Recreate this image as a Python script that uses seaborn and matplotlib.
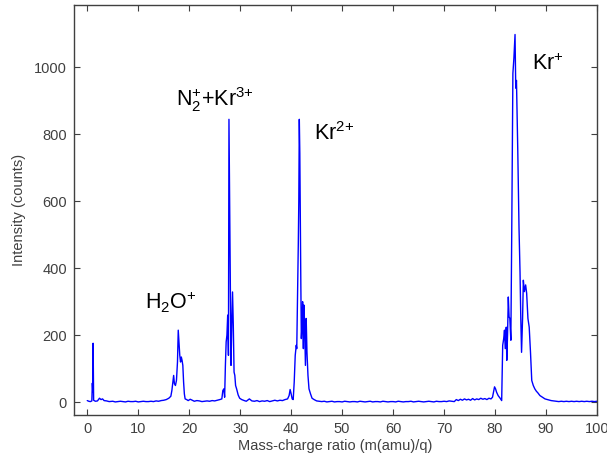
import matplotlib
matplotlib.use("Agg")
import matplotlib.pyplot as plt
import seaborn as sns
import pandas as pd

# Time-of-flight mass spectrum of krypton with residual-gas peaks,
# stored region by region (mass-to-charge, counts).
low_mass = [0.0, 0.3, 0.6, 0.9, 1.0, 1.1, 1.15, 1.25,
            1.6, 2.0, 2.4, 2.7, 3.0, 3.3, 3.8, 4.3,
            5.0, 5.5, 6.0, 6.5, 7.0, 7.5, 8.0, 8.5,
            9.0, 9.5, 10.0, 10.5, 11.0, 11.5, 12.0, 12.5,
            13.0, 13.5, 14.0, 14.5, 15.0, 15.5, 16.0]
low_counts = [5, 3, 2, 4, 57, 30, 176, 6,
              3, 4, 12, 8, 10, 5, 4, 2,
              3, 1, 2, 3, 2, 1, 3, 2,
              2, 3, 1, 2, 3, 2, 2, 3,
              2, 4, 3, 5, 6, 8, 12]

water_mass = [16.4, 16.6, 16.8, 16.95, 17.1, 17.3, 17.5, 17.7,
              17.85, 18.0, 18.15, 18.3, 18.45, 18.6, 18.75, 18.9,
              19.05, 19.2, 19.5, 19.8, 20.2, 20.6, 21.0, 21.5,
              22.0, 22.5, 23.0, 23.5, 24.0, 24.5, 25.0, 25.5,
              26.0, 26.4]
water_counts = [18, 35, 60, 80, 55, 50, 65, 120,
                215, 180, 140, 120, 135, 125, 110, 60,
                25, 10, 8, 5, 9, 6, 3, 5,
                4, 2, 3, 4, 3, 5, 4, 6,
                8, 10]

n2_mass = [26.6, 26.8, 26.95, 27.1, 27.25, 27.4, 27.55, 27.7,
           27.8, 27.9, 28.05, 28.2, 28.35, 28.5, 28.65, 28.8,
           28.95, 29.1, 29.3, 29.6, 29.9, 30.3, 30.8, 31.2,
           31.8, 32.3, 32.8, 33.3, 33.8, 34.3, 34.8, 35.3,
           35.8, 36.3, 36.8, 37.3, 37.8, 38.3, 38.8, 39.3]
n2_counts = [35, 40, 15, 110, 180, 200, 260, 140,
             844, 669, 420, 110, 230, 329, 230, 90,
             80, 50, 40, 22, 12, 8, 5, 3,
             10, 4, 3, 5, 2, 4, 3, 5,
             2, 4, 6, 4, 6, 5, 8, 10]

kr2_mass = [39.6, 39.8, 40.0, 40.2, 40.4, 40.6, 40.8, 41.0,
            41.1, 41.25, 41.4, 41.5, 41.6, 41.7, 41.8, 41.9,
            42.0, 42.1, 42.25, 42.4, 42.5, 42.65, 42.8, 42.95,
            43.1, 43.3, 43.5, 43.8, 44.1, 44.5, 45.0, 45.5]
kr2_counts = [20, 38, 25, 10, 8, 60, 140, 170,
              160, 310, 470, 600, 844, 743, 534, 350,
              190, 220, 300, 160, 290, 230, 110, 250,
              150, 80, 40, 25, 12, 8, 4, 3]

mid_mass = [46.0, 46.5, 47.0, 47.5, 48.0, 48.5, 49.0, 49.5,
            50.0, 50.5, 51.0, 51.5, 52.0, 52.5, 53.0, 53.5,
            54.0, 54.5, 55.0, 55.5, 56.0, 56.5, 57.0, 57.5,
            58.0, 58.5, 59.0, 59.5, 60.0, 60.5, 61.0, 61.5,
            62.0, 62.5, 63.0, 63.5, 64.0, 64.5, 65.0, 65.5,
            66.0, 66.5, 67.0, 67.5, 68.0, 68.5, 69.0, 69.5,
            70.0, 70.5, 71.0, 71.5]
mid_counts = [2, 3, 1, 2, 3, 1, 2, 2,
              1, 3, 2, 1, 2, 2, 1, 3,
              2, 1, 2, 3, 1, 2, 2, 1,
              3, 2, 1, 2, 2, 1, 3, 2,
              1, 2, 2, 3, 1, 2, 3, 2,
              1, 2, 3, 2, 1, 3, 2, 2,
              3, 2, 4, 3]

pre_mass = [72.0, 72.4, 72.8, 73.2, 73.6, 74.0, 74.4, 74.8,
            75.2, 75.6, 76.0, 76.4, 76.8, 77.2, 77.6, 78.0,
            78.4, 78.8, 79.2, 79.5, 79.7, 79.9, 80.1, 80.3,
            80.6, 81.0, 81.3]
pre_counts = [2, 8, 5, 9, 6, 10, 7, 9,
              6, 11, 7, 10, 8, 12, 9, 11,
              8, 12, 10, 15, 30, 46, 40, 30,
              20, 12, 5]

kr1_mass = [81.5, 81.7, 81.85, 82.0, 82.2, 82.3, 82.45, 82.6,
            82.75, 82.9, 83.1, 83.27, 83.5, 83.7, 83.92, 84.06,
            84.2, 84.45, 84.7, 84.9, 85.05, 85.2, 85.4, 85.55,
            85.75, 86.0, 86.2, 86.45, 86.7, 86.95, 87.2, 87.5,
            87.8, 88.1, 88.4, 88.8, 89.3, 89.8, 90.3, 91.0]
kr1_counts = [170, 190, 215, 160, 224, 125, 200, 314,
              255, 250, 185, 499, 981, 1027, 1097, 937,
              960, 758, 520, 388, 250, 149, 250, 364,
              330, 350, 325, 250, 224, 150, 65, 50,
              40, 33, 28, 20, 15, 10, 8, 5]

tail_mass = [91.5, 92.0, 92.5, 93.0, 93.5, 94.0, 94.5, 95.0,
             95.5, 96.0, 96.5, 97.0, 97.5, 98.0, 98.5, 99.0,
             99.5, 100.0]
tail_counts = [4, 3, 2, 3, 2, 3, 2, 3,
               2, 3, 2, 3, 2, 3, 2, 3,
               2, 3]

x_ticks = [0, 10, 20, 30, 40, 50, 60, 70, 80, 90, 100]
y_ticks = [0, 200, 400, 600, 800, 1000]

peak_labels = [
    r"$\mathregular{H_2O^{+}}$",
    r"$\mathregular{N_2^{+}{+}Kr^{3{+}}}$",
    r"$\mathregular{Kr^{2{+}}}$",
    r"$\mathregular{Kr^{+}}$",
]
label_mass = [11.3, 17.5, 44.4, 87.2]
label_counts = [276, 884, 783, 990]

mass = (low_mass + water_mass + n2_mass + kr2_mass + mid_mass
        + pre_mass + kr1_mass + tail_mass)
counts = (low_counts + water_counts + n2_counts + kr2_counts + mid_counts
          + pre_counts + kr1_counts + tail_counts)
df = pd.DataFrame({"mass": mass, "counts": counts})

sns.set_theme(style="white")
plt.rcParams["font.family"] = ["Liberation Sans", "DejaVu Sans"]
plt.rcParams["mathtext.fontset"] = "custom"
plt.rcParams["mathtext.rm"] = "Lato"
plt.rcParams["mathtext.it"] = "Lato:italic"
plt.rcParams["mathtext.bf"] = "Lato:bold"

fig = plt.figure(figsize=(6.07, 4.63), dpi=100)
ax = fig.add_axes([74 / 607, 48 / 463, 523 / 607, 410 / 463])

sns.lineplot(data=df, x="mass", y="counts", ax=ax, color="#0000ff",
             linewidth=1.0, estimator=None, sort=False)

ax.set_xlim(-2.6, 100)
ax.set_ylim(-38, 1185)
ax.set_xticks(x_ticks)
ax.set_yticks(y_ticks)

grey = "#404040"
for s in ax.spines.values():
    s.set_color(grey)
    s.set_linewidth(1.0)
ax.tick_params(direction="in", length=4, width=0.8, color=grey,
               labelcolor=grey, labelsize=10.5, top=True, right=True,
               bottom=True, left=True, pad=5)

ax.set_xlabel("Mass-charge ratio (m(amu)/q)", fontsize=10.5, color=grey, labelpad=2)
ax.set_ylabel("Intensity (counts)", fontsize=10.5, color=grey, labelpad=6)

for txt, mx, cy in zip(peak_labels, label_mass, label_counts):
    ax.text(mx, cy, txt, fontsize=15.5, color="black", ha="left", va="baseline")

fig.savefig("out.png", dpi=100)
